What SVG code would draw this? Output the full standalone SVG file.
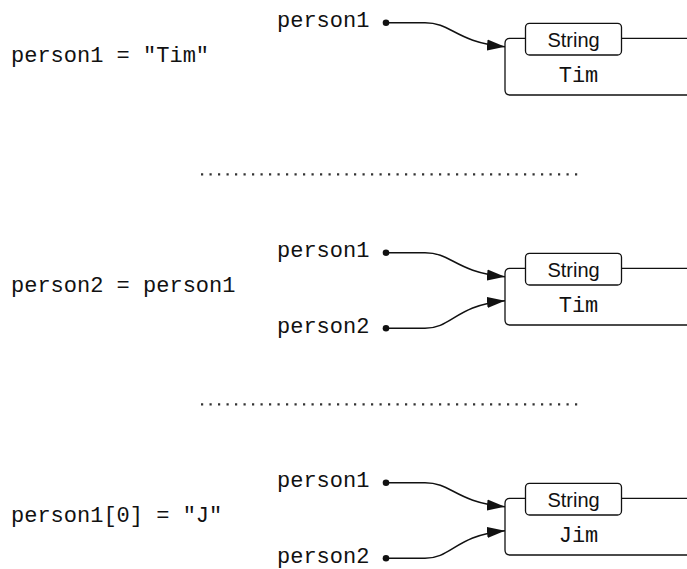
<svg xmlns="http://www.w3.org/2000/svg" width="687" height="569" viewBox="0 0 687 569">
<defs>
<style>
.mono{font-family:"Liberation Mono","DejaVu Sans Mono",monospace;font-size:22px;fill:#111}
.sans{font-family:"Liberation Sans",Arial,sans-serif;font-size:20px;fill:#111;text-anchor:middle}
.box{fill:none;stroke:#111;stroke-width:1.3}
.sbox{fill:#fff;stroke:#111;stroke-width:1.3}
.conn{fill:none;stroke:#111;stroke-width:1.5}
.dots{stroke:#333;stroke-width:2.2;stroke-dasharray:2.2 6.3}
</style>
<marker id="ah" markerUnits="userSpaceOnUse" markerWidth="20" markerHeight="12" refX="18" refY="6" orient="auto">
<path d="M0,0.5 L18,6 L0,11.5 Z" fill="#111"/>
</marker>
<g id="strobj">
<path class="box" d="M687,38.3 H510 Q505,38.3 505,43.3 V90 Q505,95 510,95 H687"/>
<rect class="sbox" x="525.5" y="23.3" width="96" height="31.7" rx="4"/>
<text class="sans" x="573.5" y="46.5">String</text>
</g>
</defs>

<g id="step1">
<text class="mono" x="11" y="61.7">person1 = "Tim"</text>
<g id="var1-person1"><text class="mono" x="277" y="26.7">person1</text></g>
<g id="obj1"><use href="#strobj"/><text class="mono" x="578.5" y="81.7" text-anchor="middle">Tim</text></g>
</g>

<line class="dots" x1="201" y1="174.3" x2="578" y2="174.3"/>

<g id="step2" transform="translate(0,230)">
<text class="mono" x="11" y="61.7">person2 = person1</text>
<g id="var2-person1"><text class="mono" x="277" y="26.7">person1</text></g>
<g id="var2-person2"><text class="mono" x="277" y="103.3">person2</text></g>
<g id="obj2"><use href="#strobj"/><text class="mono" x="578.5" y="81.7" text-anchor="middle">Tim</text></g>
</g>

<line class="dots" x1="201" y1="404.3" x2="578" y2="404.3"/>

<g id="step3" transform="translate(0,460)">
<text class="mono" x="11" y="61.7">person1[0] = "J"</text>
<g id="var3-person1"><text class="mono" x="277" y="26.7">person1</text></g>
<g id="var3-person2"><text class="mono" x="277" y="103.3">person2</text></g>
<g id="obj3"><use href="#strobj"/><text class="mono" x="578.5" y="81.7" text-anchor="middle">Jim</text></g>
</g>

<g id="connectors" fill="#111">
<circle cx="386" cy="22.7" r="3.3"/>
<path class="conn" d="M386,22.7 H425 C452,22.7 455,42 505,46.7" marker-end="url(#ah)"/>
<circle cx="386" cy="252.7" r="3.3"/>
<path class="conn" d="M386,252.7 H425 C452,252.7 455,272 505,276.7" marker-end="url(#ah)"/>
<circle cx="386" cy="328.3" r="3.3"/>
<path class="conn" d="M386,328.3 H425 C452,328.3 455,305.5 505,300.7" marker-end="url(#ah)"/>
<circle cx="386" cy="482.7" r="3.3"/>
<path class="conn" d="M386,482.7 H425 C452,482.7 455,502 505,506.7" marker-end="url(#ah)"/>
<circle cx="386" cy="558.3" r="3.3"/>
<path class="conn" d="M386,558.3 H425 C452,558.3 455,535.5 505,530.7" marker-end="url(#ah)"/>
</g>
</svg>
